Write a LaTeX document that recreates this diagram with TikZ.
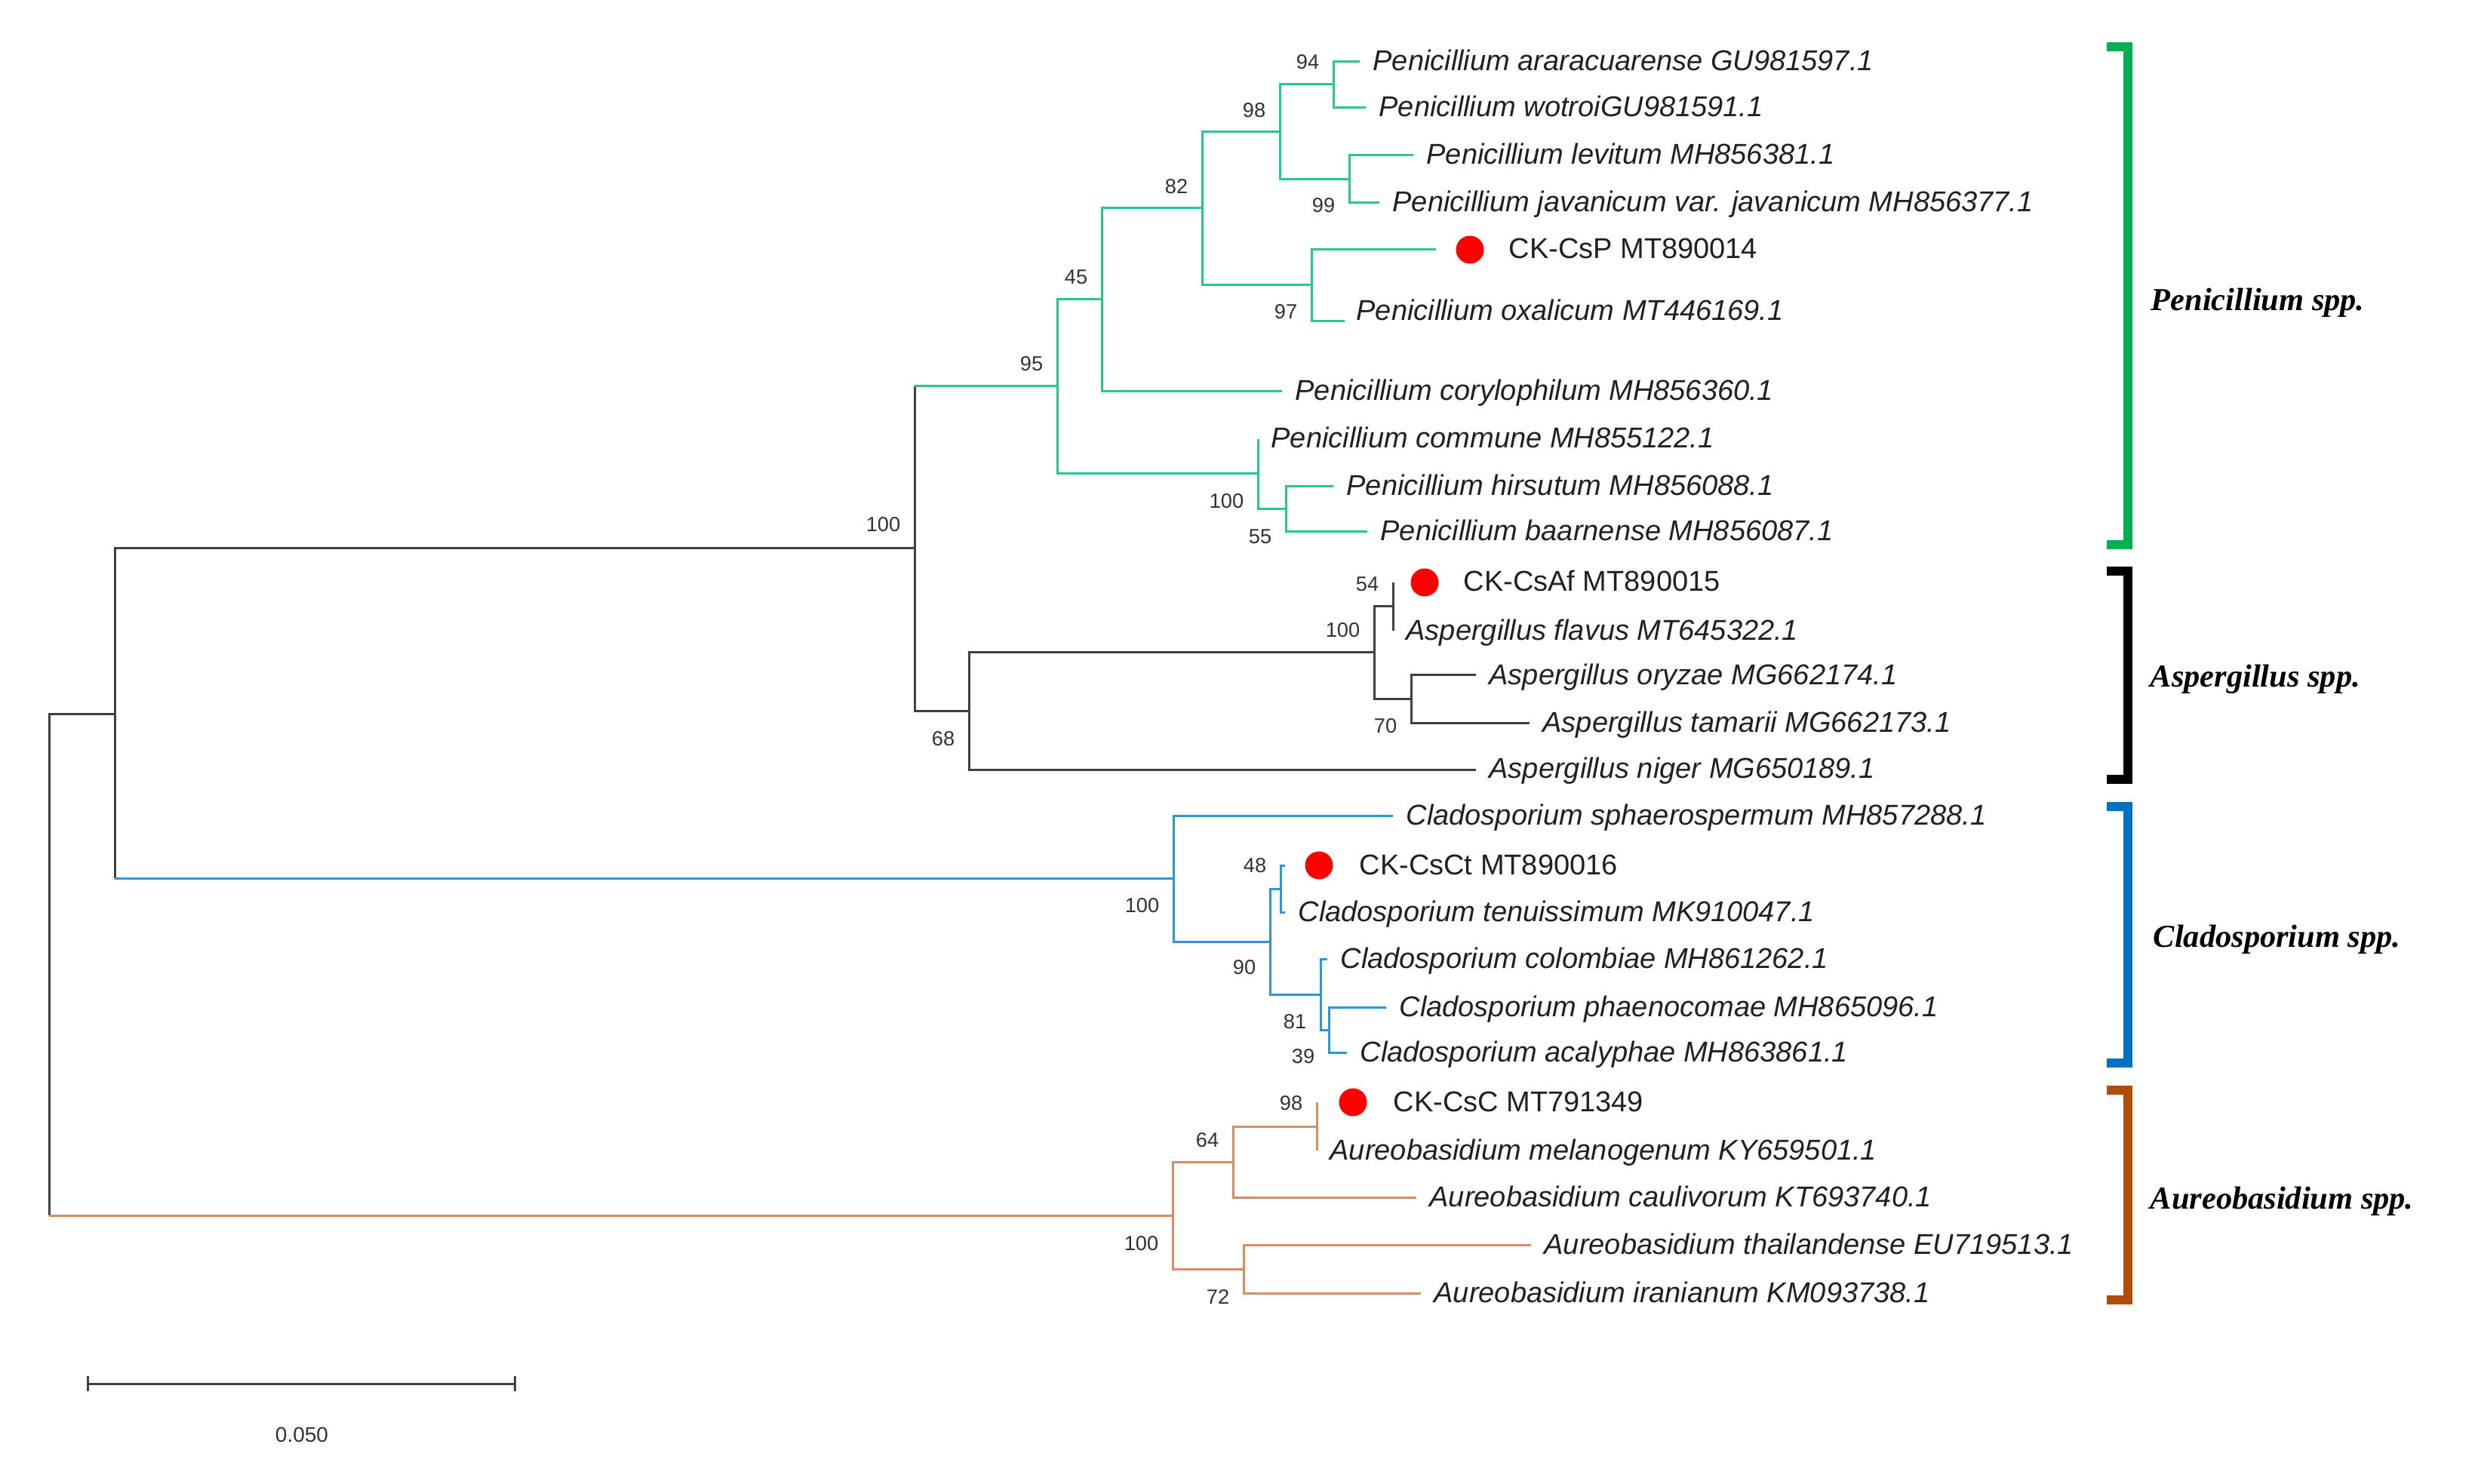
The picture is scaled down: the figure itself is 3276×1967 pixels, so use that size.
\documentclass[tikz,border=0pt]{standalone}
\usepackage{fontspec}
\setmainfont{Liberation Serif}
\setsansfont{Liberation Sans}

\definecolor{penclr}{RGB}{38,200,140}
\definecolor{aspclr}{RGB}{64,64,64}
\definecolor{claclr}{RGB}{40,152,215}
\definecolor{aurclr}{RGB}{216,142,98}
\definecolor{penbr}{RGB}{0,176,80}
\definecolor{clabr}{RGB}{0,112,192}
\definecolor{aurbr}{RGB}{178,76,10}
\definecolor{leafclr}{RGB}{32,32,32}
\definecolor{bootclr}{RGB}{50,50,50}

\begin{document}
\begin{tikzpicture}[x=0.25pt, y=-0.25pt,
	pen/.style={draw=penclr, line width=0.75pt},
	asp/.style={draw=aspclr, line width=0.75pt},
	cla/.style={draw=claclr, line width=0.75pt},
	aur/.style={draw=aurclr, line width=0.75pt},
	leaf/.style={anchor=west, inner xsep=4.2pt, inner ysep=0pt, text height=6pt, text depth=0pt, text=leafclr, font=\fontsize{9.5}{11}\selectfont\sffamily\itshape},
	isolate/.style={leaf, font=\fontsize{9.5}{11}\selectfont\sffamily},
	reddot/.style={circle, fill=red, inner sep=0pt, minimum size=9.25pt},
	boot/.style={anchor=east, inner sep=0pt, text height=4.9pt, text depth=0pt, text=bootclr, font=\fontsize{6.8}{8}\selectfont\sffamily},
	clade/.style={line width=3pt},
	genus/.style={anchor=west, inner sep=0pt, font=\fontsize{10.6}{12}\selectfont\bfseries\itshape}]
	\useasboundingbox (0,0) rectangle (3276,1967);

	% Penicillium
	\node[leaf] (ararac) at (1802,82) {Penicillium araracuarense GU981597.1};
	\node[leaf] (wotroi) at (1810,143) {Penicillium wotroiGU981591.1};
	\node[leaf] (levitum) at (1873,206) {Penicillium levitum MH856381.1};
	\node[leaf] (javanic) at (1828,269) {Penicillium javanicum var. javanicum MH856377.1};
	\coordinate (cspTip) at (1903,331);
	\node[reddot] (cspDot) at (1948,331) {};
	\node[isolate] (csp) at (1982,331) {CK-CsP MT890014};
	\coordinate (oxalTip) at (1782,426);
	\node[leaf] (oxalic) at (1780,413) {Penicillium oxalicum MT446169.1};
	\node[leaf] (coryl) at (1699,519) {Penicillium corylophilum MH856360.1};
	\node[leaf] (commune) at (1667,582) {Penicillium commune MH855122.1};
	\node[leaf] (hirsut) at (1767,645) {Penicillium hirsutum MH856088.1};
	\node[leaf] (baarn) at (1812,705) {Penicillium baarnense MH856087.1};

	% Aspergillus
	\coordinate (csafTip) at (1846,772);
	\node[reddot] (csafDot) at (1888,772) {};
	\node[isolate] (csaf) at (1922,772) {CK-CsAf MT890015};
	\node[leaf] (flavus) at (1846,836) {Aspergillus flavus MT645322.1};
	\node[leaf] (oryzae) at (1956,895) {Aspergillus oryzae MG662174.1};
	\node[leaf] (tamarii) at (2027,958) {Aspergillus tamarii MG662173.1};
	\node[leaf] (niger) at (1956,1020) {Aspergillus niger MG650189.1};

	% Cladosporium
	\node[leaf] (sphaer) at (1846,1081) {Cladosporium sphaerospermum MH857288.1};
	\coordinate (csctTip) at (1703,1147);
	\node[reddot] (csctDot) at (1748,1147) {};
	\node[isolate] (csct) at (1784,1147) {CK-CsCt MT890016};
	\node[leaf] (tenuis) at (1703,1209) {Cladosporium tenuissimum MK910047.1};
	\node[leaf] (colomb) at (1759,1271) {Cladosporium colombiae MH861262.1};
	\node[leaf] (phaeno) at (1837,1335) {Cladosporium phaenocomae MH865096.1};
	\node[leaf] (acalyp) at (1785,1395) {Cladosporium acalyphae MH863861.1};

	% Aureobasidium
	\coordinate (cscTip) at (1745,1461);
	\node[reddot] (cscDot) at (1793,1461) {};
	\node[isolate] (csc) at (1829,1461) {CK-CsC MT791349};
	\node[leaf] (melano) at (1745,1525) {Aureobasidium melanogenum KY659501.1};
	\node[leaf] (cauliv) at (1877,1587) {Aureobasidium caulivorum KT693740.1};
	\node[leaf] (thail) at (2029,1650) {Aureobasidium thailandense EU719513.1};
	\node[leaf] (iran) at (1883,1714) {Aureobasidium iranianum KM093738.1};

	% internal nodes
	\coordinate (n94) at (1767,112);
	\coordinate (n99) at (1788,238);
	\coordinate (n98) at (1696,175);
	\coordinate (n97) at (1738,378);
	\coordinate (n82) at (1593,276);
	\coordinate (n45) at (1460,397);
	\coordinate (n55) at (1704,675);
	\coordinate (n100p) at (1667,628);
	\coordinate (n95) at (1401,512);
	\coordinate (n54) at (1846,804);
	\coordinate (n70) at (1870,926);
	\coordinate (n100a) at (1821,865);
	\coordinate (n68) at (1284,942);
	\coordinate (n100) at (1212,727);
	\coordinate (n48) at (1697,1178);
	\coordinate (n39) at (1761,1365);
	\coordinate (n81) at (1750,1318);
	\coordinate (n90) at (1683,1248);
	\coordinate (n100c) at (1555,1164);
	\coordinate (nA) at (152,946);
	\coordinate (n98b) at (1745,1493);
	\coordinate (n64) at (1634,1540);
	\coordinate (n72) at (1648,1682);
	\coordinate (n100d) at (1554,1611);
	\coordinate (root) at (65,1278);

	\foreach \p/\c in {n94/ararac.west, n94/wotroi.west, n99/levitum.west, n99/javanic.west, n98/n94, n98/n99, n97/cspTip, n97/oxalTip, n82/n98, n82/n97, n45/n82, n45/coryl.west, n55/hirsut.west, n55/baarn.west, n100p/commune.west, n100p/n55, n95/n45, n95/n100p}
		\draw[pen] (\p) |- (\c);
	\foreach \p/\c in {n54/csafTip, n54/flavus.west, n70/oryzae.west, n70/tamarii.west, n100a/n54, n100a/n70, n68/n100a, n68/niger.west, n100/n68, nA/n100, root/nA}
		\draw[asp] (\p) |- (\c);
	\foreach \p/\c in {n48/csctTip, n48/tenuis.west, n39/phaeno.west, n39/acalyp.west, n81/colomb.west, n81/n39, n90/n48, n90/n81, n100c/sphaer.west, n100c/n90}
		\draw[cla] (\p) |- (\c);
	\foreach \p/\c in {n98b/cscTip, n98b/melano.west, n64/n98b, n64/cauliv.west, n72/thail.west, n72/iran.west, n100d/n64, n100d/n72}
		\draw[aur] (\p) |- (\c);
	\draw[asp] (n100) -- (n100 |- n95);
	\draw[pen] (n100 |- n95) -- (n95);
	\draw[asp] (nA) -- (nA |- n100c);
	\draw[cla] (nA |- n100c) -- (n100c);
	\draw[asp] (root) -- (root |- n100d);
	\draw[aur] (root |- n100d) -- (n100d);

	% bootstrap values
	\foreach \x/\y/\v in {1749/82/94, 1678/146/98, 1770/272/99, 1575/247/82, 1720/413/97, 1442/367/45, 1383/482/95, 1649/664/100, 1686/711/55, 1194/695/100, 1266/979/68, 1803/835/100, 1828/774/54, 1852/962/70, 1537/1200/100, 1665/1282/90, 1679/1147/48, 1732/1354/81, 1743/1400/39, 1536/1648/100, 1616/1511/64, 1727/1462/98, 1630/1719/72}
		\node[boot] at (\x,\y) {\v};

	\draw[clade, penbr] (2792,62) -- (2820,62) -- (2820,722) -- (2792,722);
	\draw[clade, black] (2792,757) -- (2820,757) -- (2820,1033) -- (2792,1033);
	\draw[clade, clabr] (2792,1069) -- (2820,1069) -- (2820,1409) -- (2792,1409);
	\draw[clade, aurbr] (2792,1445) -- (2820,1445) -- (2820,1723) -- (2792,1723);
	\node[genus] (penGenus) at (2850,401) {Penicillium spp.};
	\node[genus] (aspGenus) at (2849,900) {Aspergillus spp.};
	\node[genus] (claGenus) at (2853,1245) {Cladosporium spp.};
	\node[genus] (aurGenus) at (2849,1592) {Aureobasidium spp.};

	\coordinate (sbL) at (116,1834);
	\coordinate (sbR) at (682,1834);
	\draw[asp] (sbL) -- (sbR);
	\draw[asp] ([yshift=2.5pt]sbL) -- ([yshift=-2.5pt]sbL);
	\draw[asp] ([yshift=2.5pt]sbR) -- ([yshift=-2.5pt]sbR);
	\node[text=bootclr, font=\fontsize{7}{8}\selectfont\sffamily] (sbText) at (400,1902) {0.050};
\end{tikzpicture}
\end{document}
